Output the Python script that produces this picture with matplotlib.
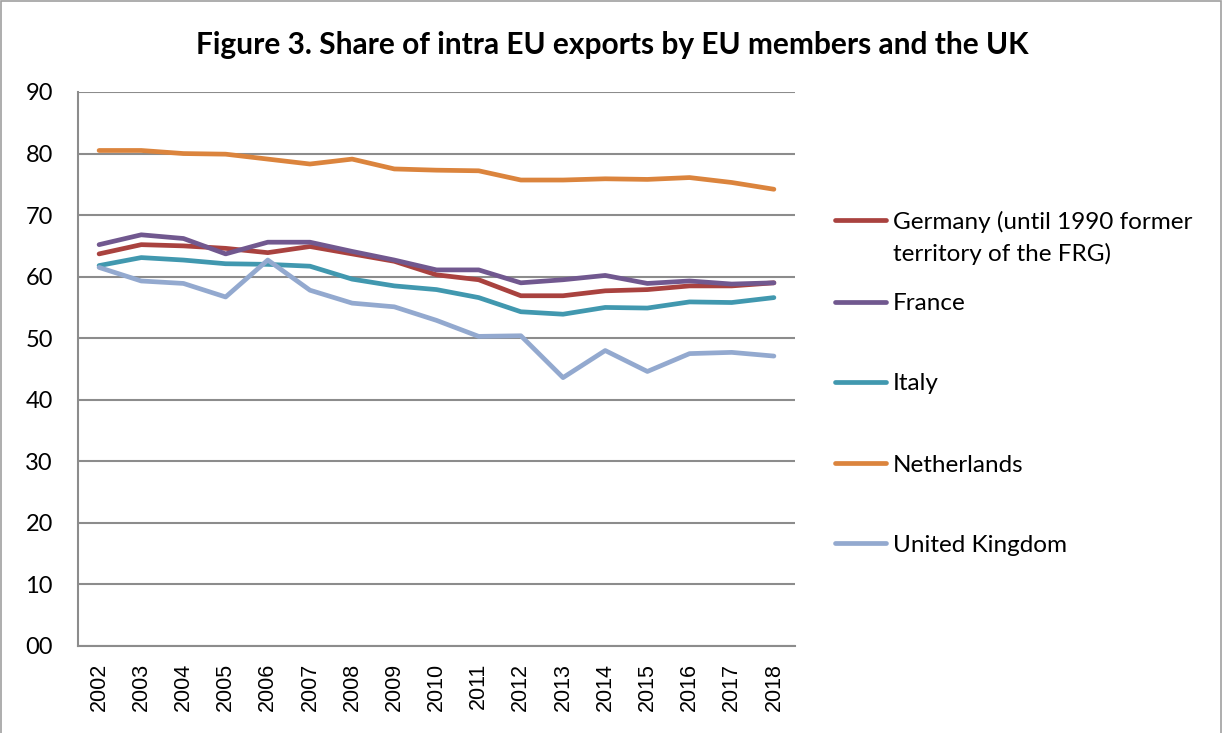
import matplotlib
matplotlib.use("Agg")
import matplotlib.pyplot as plt
from matplotlib.lines import Line2D
from matplotlib.patches import Rectangle

years = ["2002", "2003", "2004", "2005", "2006", "2007", "2008", "2009", "2010",
         "2011", "2012", "2013", "2014", "2015", "2016", "2017", "2018"]

germany = [63.7, 65.2, 65.0, 64.6, 63.9, 64.9, 63.7, 62.5, 60.3,
           59.5, 56.9, 56.9, 57.7, 57.9, 58.5, 58.5, 59.0]
france = [65.2, 66.8, 66.2, 63.7, 65.6, 65.6, 64.1, 62.7, 61.1,
          61.1, 59.0, 59.5, 60.2, 58.9, 59.3, 58.8, 59.0]
italy = [61.8, 63.1, 62.7, 62.1, 62.0, 61.7, 59.6, 58.5, 57.9,
         56.6, 54.3, 53.9, 55.0, 54.9, 55.9, 55.8, 56.6]
netherlands = [80.5, 80.5, 80.0, 79.9, 79.1, 78.3, 79.1, 77.5, 77.3,
               77.2, 75.7, 75.7, 75.9, 75.8, 76.1, 75.3, 74.2]
uk = [61.5, 59.3, 58.9, 56.7, 62.7, 57.8, 55.7, 55.1, 52.9,
      50.3, 50.4, 43.6, 48.0, 44.6, 47.5, 47.7, 47.1]

series_labels = ["Germany (until 1990 former\nterritory of the FRG)", "France", "Italy",
                 "Netherlands", "United Kingdom"]
series_values = [germany, france, italy, netherlands, uk]
series_colors = ["#A9423F", "#71588F", "#4198AF", "#DB843D", "#93A9CF"]

yticks = [0, 10, 20, 30, 40, 50, 60, 70, 80, 90]
ytick_labels = ["00", "10", "20", "30", "40", "50", "60", "70", "80", "90"]
title = "Figure 3. Share of intra EU exports by EU members and the UK"

W, H = 1223, 733
fig = plt.figure(figsize=(W / 100, H / 100), dpi=100)
fig.patch.set_facecolor("white")

ax = fig.add_axes([78 / W, 1 - 646 / H, (795 - 78) / W, (646 - 92) / H])
x = list(range(len(years)))
for vals, col in zip(series_values, series_colors):
    ax.plot(x, vals, color=col, lw=3.4, solid_capstyle="round", solid_joinstyle="round", zorder=3)

ax.set_xlim(-0.5, len(years) - 0.5)
ax.set_ylim(0, 90)
ax.set_yticks(yticks)
ax.set_yticklabels(ytick_labels, fontsize=17, family="Lato")
ax.set_xticks(x)
ax.set_xticklabels(years, rotation=90, fontsize=15.5, family="Liberation Sans", va="top", ha="center")
ax.tick_params(axis="y", length=0, pad=18)
ax.tick_params(axis="x", length=0, pad=12)
ax.yaxis.grid(True, color="#8C8C8C", lw=1.5, zorder=1)
ax.set_axisbelow(True)
for s in ["top", "right"]:
    ax.spines[s].set_visible(False)
for s in ["left", "bottom"]:
    ax.spines[s].set_color("#8C8C8C")
    ax.spines[s].set_linewidth(1.5)

fig.text(612 / W, 1 - 45 / H, title, ha="center", va="center", fontsize=21.5,
         fontweight="bold", family="Lato")

# legend (manual, Excel-style)
leg_y = [220, 302, 382, 463, 543]
for lab, col, yy in zip(series_labels, series_colors, leg_y):
    fy = 1 - yy / H
    fig.add_artist(Line2D([835 / W, 886 / W], [fy, fy], color=col, lw=3.4,
                          solid_capstyle="round", transform=fig.transFigure))
    for i, line in enumerate(lab.split("\n")):
        fig.text(893 / W, 1 - (yy + 8.5 + 33 * i) / H, line, ha="left", va="baseline",
                 fontsize=17.5, family="Lato")

# outer frame
fig.add_artist(Rectangle((1 / W, -0.01), (W - 3) / W, 1.01 - 1 / H, transform=fig.transFigure,
                         fill=False, edgecolor="#A0A0A0", lw=1.2))

fig.savefig("out.png", dpi=100, facecolor="white")
